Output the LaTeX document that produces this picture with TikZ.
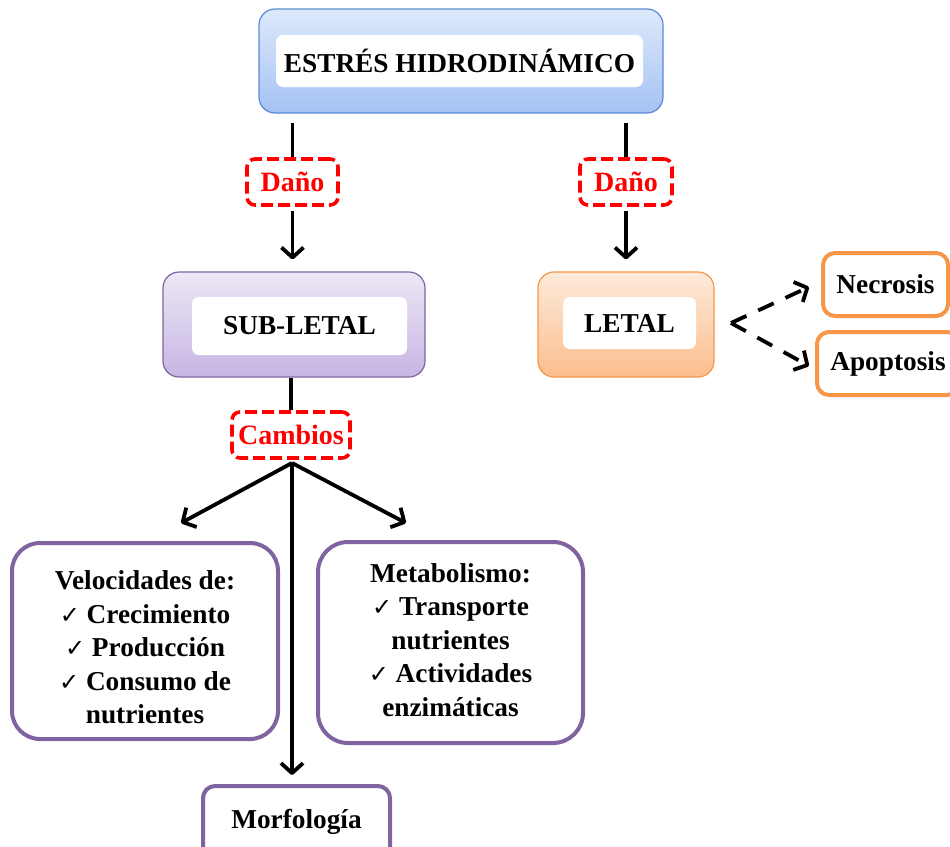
\documentclass[tikz,border=0pt]{standalone}
\usepackage{fontspec}
\setmainfont{Liberation Serif}
\newfontfamily\symfont{DejaVu Sans}
\usetikzlibrary{arrows.meta}

\definecolor{bluebd}{HTML}{5A8AD4}
\definecolor{bluetop}{HTML}{DEE9FB}
\definecolor{bluebot}{HTML}{A4C2F4}
\definecolor{purbd}{HTML}{8064A2}
\definecolor{purtop}{HTML}{EDE8F6}
\definecolor{purbot}{HTML}{C6B5E3}
\definecolor{orbd}{HTML}{F79646}
\definecolor{ortop}{HTML}{FDEADB}
\definecolor{orbot}{HTML}{FBBE8D}
\definecolor{alarm}{HTML}{FF0000}

\newcommand{\chk}{{\symfont\bfseries\fontsize{24}{24}\selectfont ✓}}

\tikzset{
  txt/.style={font=\bfseries\fontsize{27.3}{33.5}\selectfont, text=black},
  gradbox/.style={draw, line width=1.2pt, rounded corners=16pt, inner sep=0pt},
  innerbox/.style={txt, fill=white, rounded corners=7pt, inner sep=0pt},
  dashbox/.style={draw=alarm, line width=3.6pt, dash pattern=on 12pt off 5pt,
    rounded corners=8pt, inner sep=0pt, font=\bfseries\fontsize{28}{30}\selectfont,
    text=alarm, fill=white},
  thickbox/.style={txt, draw, line width=4pt, fill=white, inner sep=0pt},
  conn/.style={line width=3.8pt, black},
  arr/.style={conn, -{Straight Barb[length=10pt, width=22pt, line join=round]}},
  darr/.style={arr, dash pattern=on 17pt off 13pt},
}

\begin{document}
\begin{tikzpicture}[x=1pt, y=-1pt]
\useasboundingbox (0,0) rectangle (950,846);

% top level
\node[gradbox, draw=bluebd, top color=bluetop, bottom color=bluebot,
  minimum width=404pt, minimum height=104pt] (estres) at (461,61) {};
\node[innerbox, minimum width=367pt, minimum height=52pt] (estrestxt) at (459.5,61) {ESTRÉS HIDRODINÁMICO};

% damage labels
\node[dashbox, minimum width=91pt, minimum height=46pt] (dano1) at (292.5,182) {Daño};
\node[dashbox, minimum width=92pt, minimum height=46pt] (dano2) at (626,182) {Daño};

% sub-lethal and lethal
\node[gradbox, draw=purbd, top color=purtop, bottom color=purbot,
  minimum width=262pt, minimum height=105pt] (sub) at (294,324.5) {};
\node[innerbox, minimum width=215pt, minimum height=58pt] (subtxt) at (299.5,326) {SUB-LETAL};

\node[gradbox, draw=orbd, top color=ortop, bottom color=orbot,
  minimum width=176pt, minimum height=105pt] (letal) at (626,324.5) {};
\node[innerbox, minimum width=133pt, minimum height=52pt] (letaltxt) at (629.5,323) {LETAL};

% outcomes of lethal damage
\node[thickbox, draw=orbd, rounded corners=12pt, minimum width=125pt, minimum height=63pt] (necrosis) at (885.5,284.5) {Necrosis};
\node[thickbox, draw=orbd, rounded corners=12pt, minimum width=142pt, minimum height=63pt] (apoptosis) at (888,363.5) {Apoptosis};

% changes
\node[dashbox, minimum width=118pt, minimum height=46pt] (cambios) at (291,435) {Cambios};

\node[thickbox, draw=purbd, rounded corners=28pt, minimum width=266pt, minimum height=196pt] (veloc) at (145,641) {};
\node[txt, align=center, inner sep=0pt] (veloctxt) at (145,647.5)
  {Velocidades de:\\ \chk\ Crecimiento\\ \chk\ Producción\\ \chk\ Consumo de\\ nutrientes};

\node[thickbox, draw=purbd, rounded corners=30pt, minimum width=265pt, minimum height=201pt] (metab) at (450.5,642.5) {};
\node[txt, align=center, inner sep=0pt] (metabtxt) at (450.5,640)
  {Metabolismo:\\ \chk\ Transporte\\ nutrientes\\ \chk\ Actividades\\ enzimáticas};

\node[thickbox, draw=purbd, rounded corners=12pt, minimum width=187pt, minimum height=72pt] (morf) at (296.5,822) {Morfología};

% connectors
\draw[conn, shorten <=9pt] (dano1.north |- estres.south) -- (dano1.north);
\draw[arr, shorten <=4pt, shorten >=12pt] (dano1.south) -- (dano1.south |- sub.north);
\draw[conn, shorten <=9pt] (dano2.north |- estres.south) -- (dano2.north);
\draw[arr, shorten <=4pt, shorten >=12pt] (dano2.south) -- (dano2.south |- letal.north);

\coordinate (fork) at (731,323);
\coordinate (tipN) at (809,287);
\coordinate (tipA) at (809,366);
\draw[darr] (fork) -- (tipN);
\draw[darr] (fork) -- (tipA);

\draw[conn] (cambios.north |- sub.south) -- (cambios.north);
\coordinate (apex) at (292,463);
\coordinate (tipL) at (181,523);
\coordinate (tipR) at (406,523);
\draw[arr] (apex) -- (tipL);
\draw[arr] (apex) -- (tipR);
\draw[arr, shorten >=9pt] (apex) -- (apex |- morf.north);
\end{tikzpicture}
\end{document}
